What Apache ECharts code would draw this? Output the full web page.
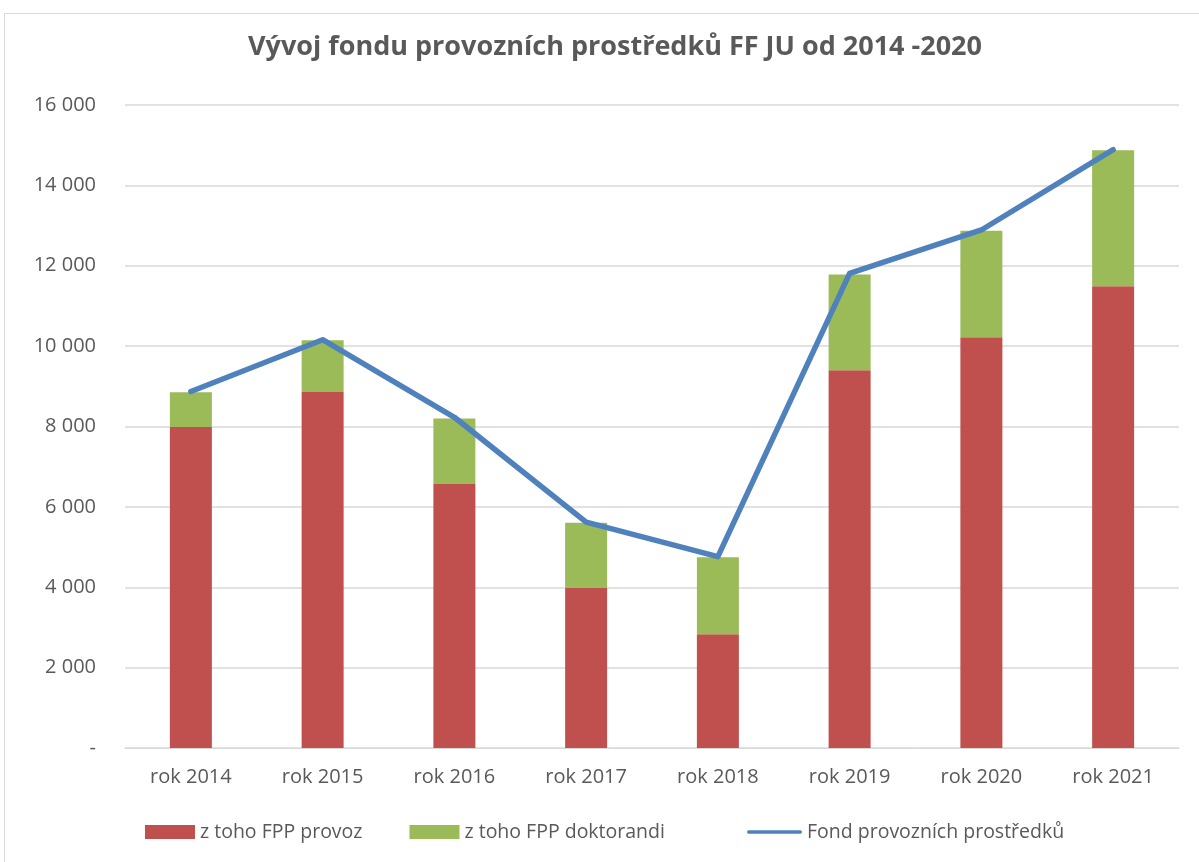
<!DOCTYPE html>
<html>
<head>
<meta charset="utf-8">
<script src="https://cdn.jsdelivr.net/npm/echarts@6/dist/echarts.min.js"></script>
<style>html,body{margin:0;padding:0;background:#fff}#c{width:1199px;height:862px}</style>
</head>
<body>
<div id="c"></div>
<script>
const title = 'Vývoj fondu provozních prostředků FF JU od 2014 -2020';
const categories = ['rok 2014','rok 2015','rok 2016','rok 2017','rok 2018','rok 2019','rok 2020','rok 2021'];
const provoz = [7990, 8860, 6570, 3980, 2830, 9400, 10220, 11490];
const doktorandi = [860, 1285, 1630, 1625, 1915, 2385, 2650, 3385];
const fond = [8870, 10160, 8230, 5620, 4760, 11810, 12890, 14890];
const seriesNames = ['z toho FPP provoz', 'z toho FPP doktorandi', 'Fond provozních prostředků'];

const FONT = 'Open Sans';
const legendText = {fontFamily: FONT, fontSize: 19.5, color: '#595959'};
const lineIcon = 'path://M3,0 L97,0 A3,3 0 0 1 97,6 L3,6 A3,3 0 0 1 3,0 Z';
const chart = echarts.init(document.getElementById('c'));
chart.setOption({
  animation: false,
  backgroundColor: '#fff',
  graphic: [{type:'rect', shape:{x:4.5,y:13.5,width:1250,height:900}, style:{fill:'none', stroke:'#D9D9D9', lineWidth:1}, silent:true}],
  title: {text: title, left: 243, top: 29,
    textStyle: {fontFamily: FONT, fontWeight: 'bold', fontSize: 27, color: '#595959'}},
  grid: {left: 125, right: 20, top: 105, bottom: 114, containLabel: false},
  legend: [
    {left: 140, top: 817, itemWidth: 50, itemHeight: 14, itemGap: 47, textStyle: legendText,
      data: [{name: seriesNames[0], icon: 'rect'}, {name: seriesNames[1], icon: 'rect'}]},
    {left: 742, top: 817, itemWidth: 55, itemHeight: 14, textStyle: legendText,
      itemStyle: {color: '#4F81BD'},
      data: [{name: seriesNames[2], icon: lineIcon}]}
  ],
  xAxis: {type: 'category', data: categories,
    axisLine: {lineStyle: {color: '#D9D9D9', width: 1}}, axisTick: {show: false},
    axisLabel: {fontFamily: FONT, fontSize: 20, color: '#595959', margin: 19}},
  yAxis: {type: 'value', min: 0, max: 16000, interval: 2000,
    axisLine: {show: false}, axisTick: {show: false},
    splitLine: {lineStyle: {color: '#D9D9D9', width: 1.5}},
    axisLabel: {fontFamily: FONT, fontSize: 20, color: '#595959', margin: 29,
      formatter: v => v === 0 ? '-' : String(v).replace(/\B(?=(\d{3})+(?!\d))/g, ' ')}},
  series: [
    {name: seriesNames[0], type: 'bar', stack: 'a', data: provoz, barWidth: 42,
      itemStyle: {color: '#C0504D'}},
    {name: seriesNames[1], type: 'bar', stack: 'a', data: doktorandi, barWidth: 42,
      itemStyle: {color: '#9BBB59'}},
    {name: seriesNames[2], type: 'line', data: fond, symbol: 'none',
      lineStyle: {color: '#4F81BD', width: 5.5, cap: 'round', join: 'round'}, itemStyle: {color: '#4F81BD'}}
  ]
});
</script>
</body>
</html>
